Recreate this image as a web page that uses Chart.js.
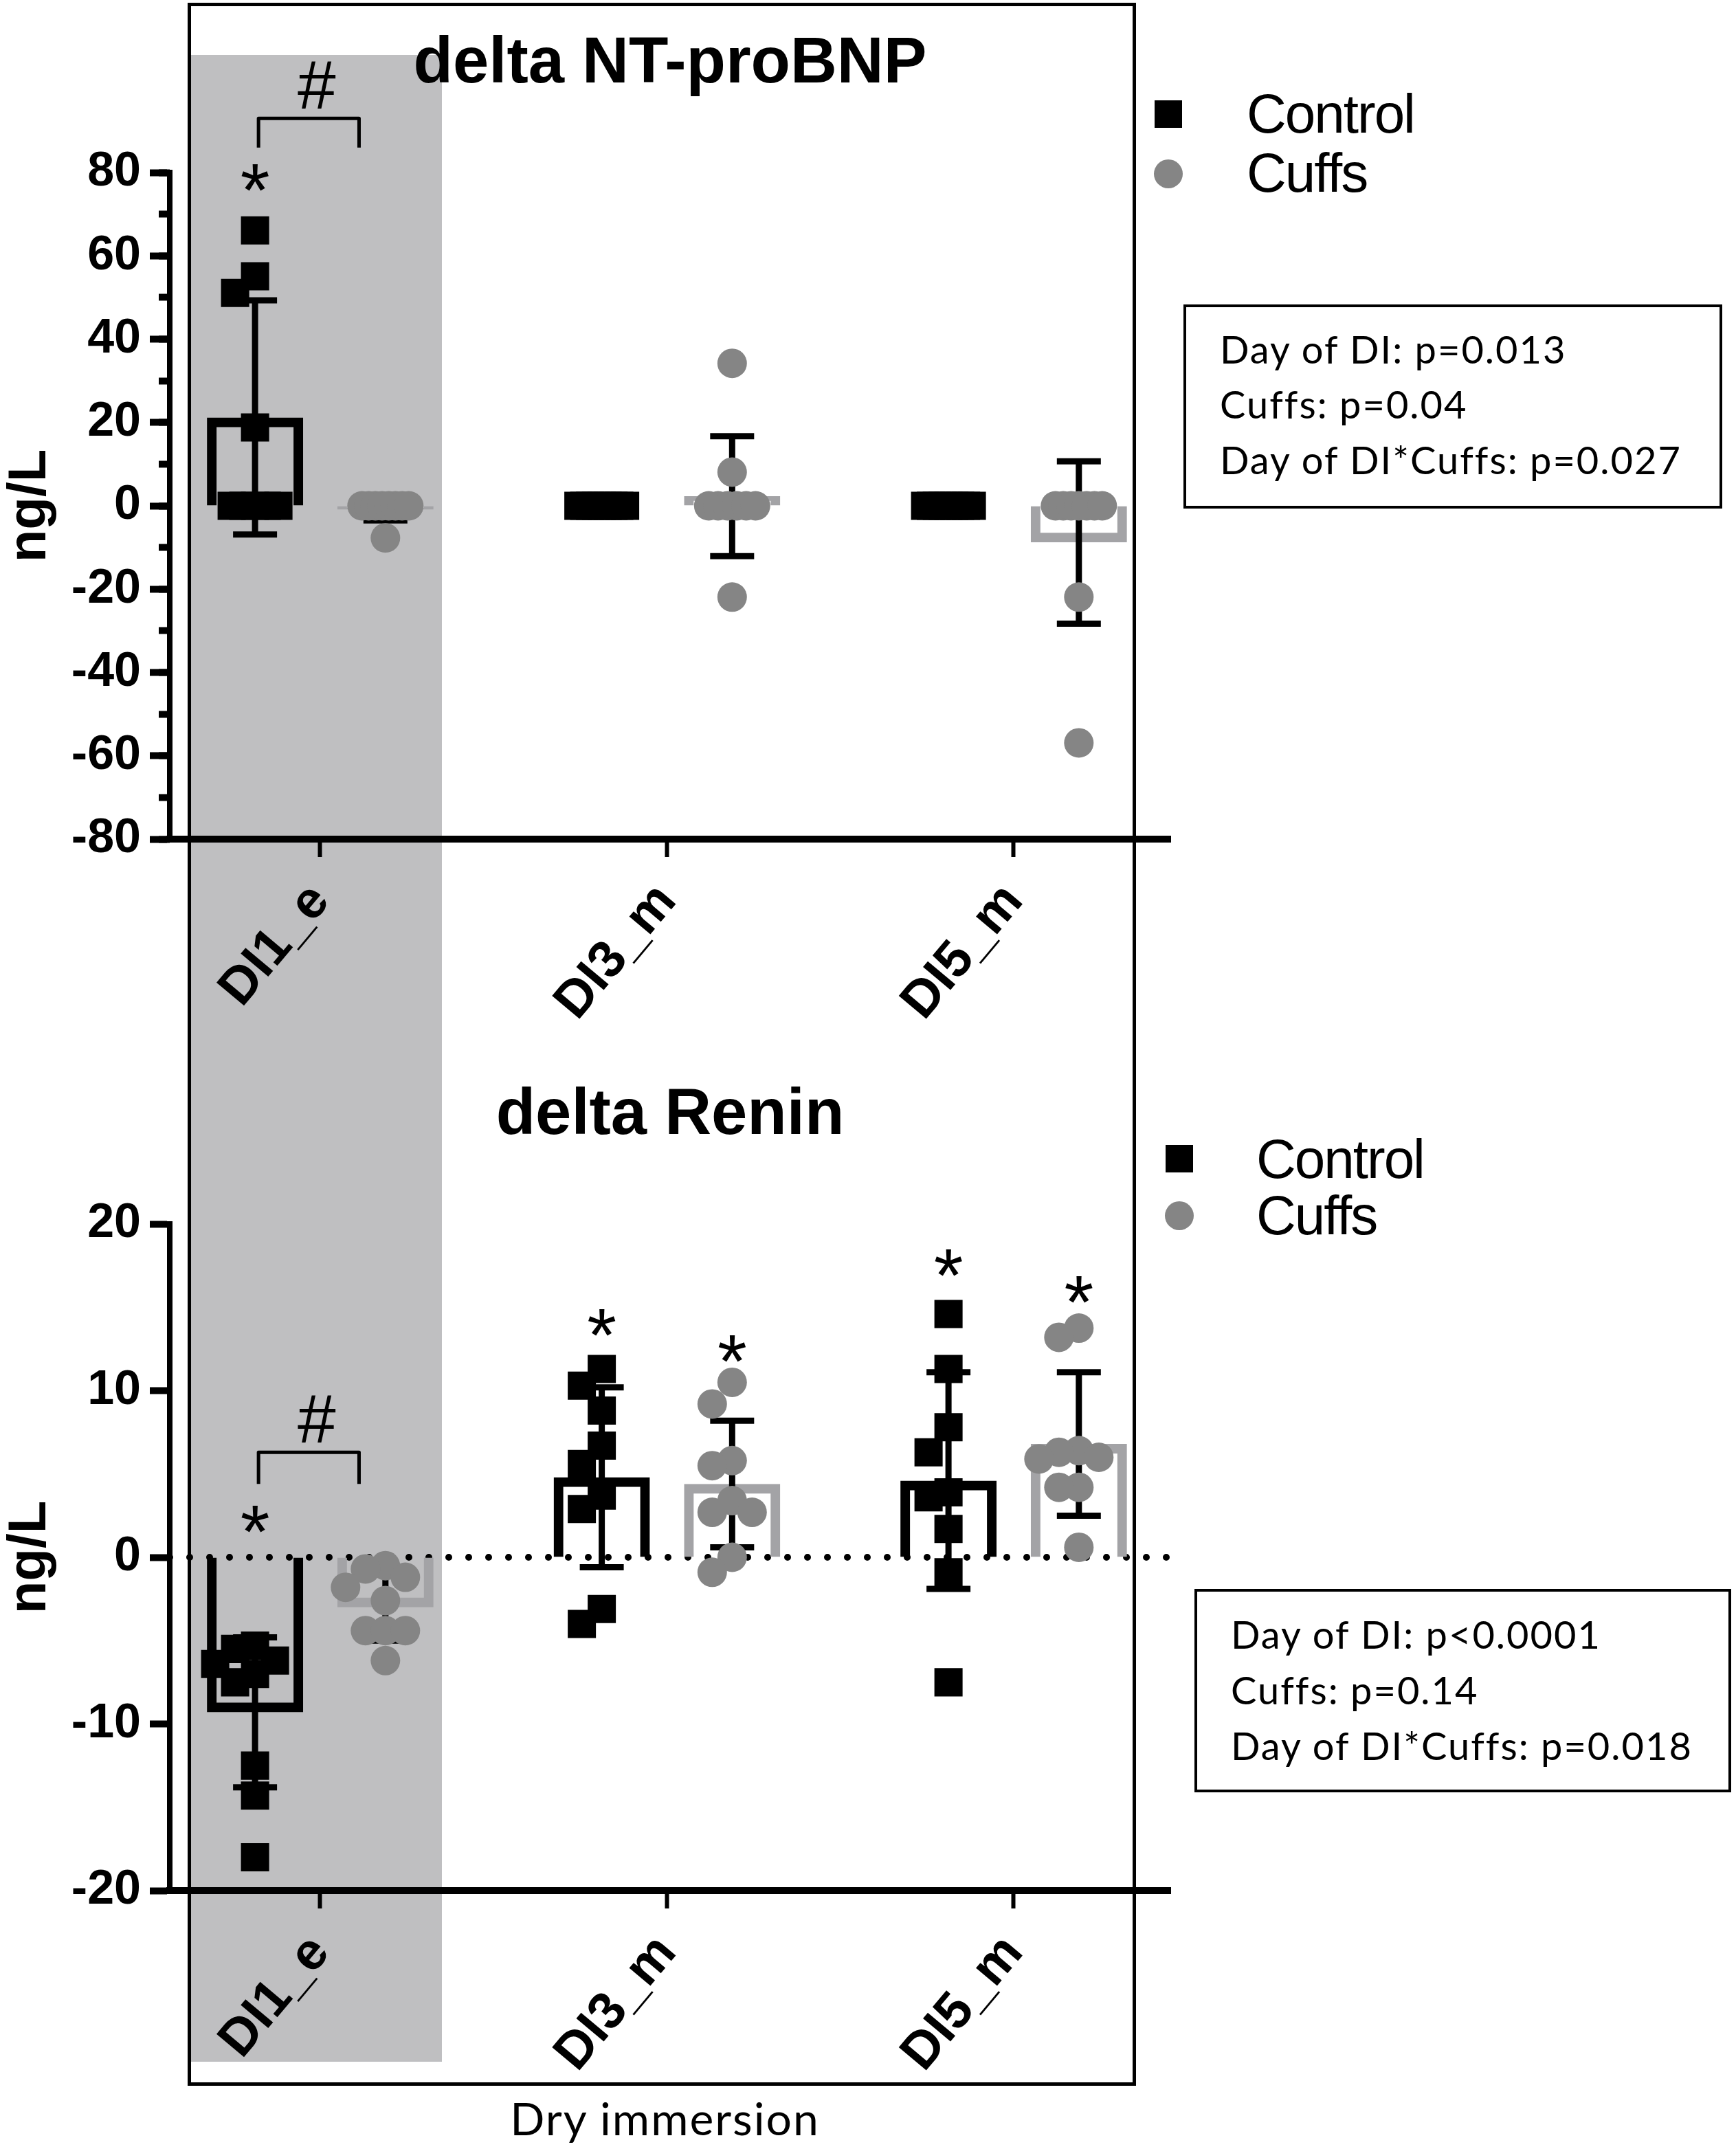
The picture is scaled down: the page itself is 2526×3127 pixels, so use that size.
<!DOCTYPE html>
<html>
<head>
<meta charset="utf-8">
<script src="https://cdn.jsdelivr.net/npm/chart.js@4.4.1/dist/chart.umd.min.js"></script>
<style>
  html, body { margin: 0; padding: 0; background: #fff; }
  body { width: 2526px; height: 3127px; position: relative; overflow: hidden; }
  .abs { position: absolute; }
  .leg { position: absolute; font-family: 'Liberation Sans', Arial, sans-serif; font-size: 80px; line-height: 80px; letter-spacing: -2px; color: #000; white-space: nowrap; }
  .stats { position: absolute; border: 4px solid #000; box-sizing: border-box; background: #fff; }
  .stats div { position: absolute; font-family: Lato, 'Open Sans', sans-serif; font-size: 56px; line-height: 80px; letter-spacing: 2px; color: #000; white-space: nowrap; }
</style>
</head>
<body>
<div class="abs" style="left:277px;top:80px;width:366px;height:2920px;background:#bfbfc1;"></div>
<div class="abs" style="left:273px;top:4px;width:1380px;height:3031px;border:5px solid #000;box-sizing:border-box;"></div>
<canvas id="c1" class="abs" style="left:0;top:0;" width="1760" height="1500"></canvas>
<canvas id="c2" class="abs" style="left:0;top:1500px;" width="1760" height="1520"></canvas>

<!-- legends -->
<div class="abs" style="left:1680px;top:146px;width:40px;height:40px;background:#000;"></div>
<div class="abs" style="left:1679px;top:232px;width:42px;height:42px;border-radius:50%;background:#858585;"></div>
<div class="leg" style="left:1814px;top:126px;">Control</div>
<div class="leg" style="left:1814px;top:212px;">Cuffs</div>

<div class="abs" style="left:1696px;top:1666px;width:40px;height:40px;background:#000;"></div>
<div class="abs" style="left:1695px;top:1748px;width:42px;height:42px;border-radius:50%;background:#858585;"></div>
<div class="leg" style="left:1828px;top:1647px;">Control</div>
<div class="leg" style="left:1828px;top:1729px;">Cuffs</div>

<!-- statistics boxes -->
<div class="stats" style="left:1722px;top:443px;width:784px;height:297px;">
  <div style="left:49px;top:21px;">Day of DI: p=0.013</div>
  <div style="left:49px;top:101px;">Cuffs: p=0.04</div>
  <div style="left:49px;top:182px;">Day of DI*Cuffs: p=0.027</div>
</div>
<div class="stats" style="left:1738px;top:2312px;width:781px;height:296px;">
  <div style="left:49px;top:22px;">Day of DI: p&lt;0.0001</div>
  <div style="left:49px;top:103px;">Cuffs: p=0.14</div>
  <div style="left:49px;top:184px;">Day of DI*Cuffs: p=0.018</div>
</div>

<div class="abs" style="left:0;width:1935px;top:3042px;text-align:center;font-family:Lato,'Open Sans',sans-serif;font-size:66px;letter-spacing:2px;line-height:80px;color:#000;">Dry immersion</div>

<script>
// ---------------- DATA ----------------
const categories = ['DI1_e', 'DI3_m', 'DI5_m'];
const seriesNames = ['Control', 'Cuffs'];

// delta NT-proBNP (ng/L): individual values per category
const bnpControl = [
  [66.1, 55.1, 51.1, 18.8, 0, 0, 0, 0, 0],
  [0, 0, 0, 0, 0, 0, 0, 0, 0],
  [0, 0, 0, 0, 0, 0, 0, 0, 0]
];
const bnpCuffs = [
  [0, 0, 0, 0, 0, 0, 0, 0, -7.7],
  [34.2, 8.1, 0, 0, 0, 0, 0, 0, -21.9],
  [0, 0, 0, 0, 0, 0, 0, -21.9, -56.9]
];
const bnpControlMean = [21.2, 0, 0];
const bnpControlSD   = [28.1, 0, 0];
const bnpCuffsMean   = [-0.9, 2.3, -8.8];
const bnpCuffsSD     = [2.6, 14.4, 19.5];
const bnpYTicks = [-80, -60, -40, -20, 0, 20, 40, 60, 80];
const bnpYMinorTicks = [-80, -70, -60, -50, -40, -30, -20, -10, 0, 10, 20, 30, 40, 50, 60, 70, 80];

// delta Renin (ng/L)
const reninControl = [
  [-5.3, -5.5, -6.2, -6.4, -7.0, -7.5, -12.5, -14.3, -18.0],
  [11.3, 10.3, 8.8, 6.7, 5.6, 3.7, 2.9, -3.1, -4.0],
  [14.6, 11.3, 7.8, 6.3, 3.9, 3.6, 1.7, -0.9, -7.5]
];
const reninCuffs = [
  [-0.5, -0.7, -1.2, -1.8, -2.6, -4.4, -4.4, -4.4, -6.2],
  [10.5, 9.2, 5.8, 5.5, 3.4, 2.7, 2.7, 0.0, -0.9],
  [13.75, 13.2, 6.4, 6.3, 6.0, 5.9, 4.2, 4.2, 0.6]
];
const reninControlMean = [-9.3, 4.8, 4.6];
const reninControlSD   = [4.5, 5.4, 6.5];
const reninCuffsMean   = [-3.0, 4.4, 6.8];
const reninCuffsSD     = [2.0, 3.8, 4.3];
const reninYTicks = [-20, -10, 0, 10, 20];

// significance marks: category index, series index, y value
const bnpStars = [{ cat: 0, series: 0, y: 80 }];
const bnpHash = { cat: 0, y: 101, bracketY: 93, legY: 86 };
const reninStars = [
  { cat: 0, series: 0, y: 2.6 },
  { cat: 1, series: 0, y: 14.4 },
  { cat: 1, series: 1, y: 12.85 },
  { cat: 2, series: 0, y: 18.0 },
  { cat: 2, series: 1, y: 16.4 }
];
const reninHash = { cat: 0, y: 8.3, bracketY: 6.3, legY: 4.4 };

// ---------------- LAYOUT / STYLE ----------------
const CANVAS_W = 1760;
const AREA_LEFT = 247, AREA_RIGHT = 1703;
const X_MIN = 0.566, X_MAX = 3.452;
const SERIES_OFFSET = [-0.188, 0.188];
const BRACKET_L = -0.178, BRACKET_R = 0.112, HASH_DX = -0.01;
const FONT = "'Liberation Sans', Arial, sans-serif";

const STYLE = [
  { bar: '#000000', point: '#000000', pointStyle: 'rect', radius: 29 },
  { bar: '#a3a3a6', point: '#858585', pointStyle: 'circle', radius: 21.5 }
];

function swarm(vals, pxY) {
  const D = 40, S = 29, CAP = 34;
  const order = vals.map((v, i) => i).sort((a, b) => vals[b] - vals[a]);
  const placed = [];
  const off = new Array(vals.length).fill(0);
  for (const i of order) {
    const py = vals[i] * pxY;
    for (let k = 0; k < 40; k++) {
      const c = k === 0 ? 0 : (k % 2 ? -1 : 1) * Math.ceil(k / 2) * S;
      if (placed.every(p => Math.abs(p.x - c) >= S * 0.99 || Math.abs(p.y - py) >= D)) {
        off[i] = c; placed.push({ x: c, y: py }); break;
      }
    }
  }
  const seen = new Set();
  vals.forEach((v, i) => {
    if (seen.has(i)) return;
    const row = vals.map((w, j) => j).filter(j => Math.abs(vals[j] - v) * pxY < 3);
    row.forEach(j => seen.add(j));
    if (row.length >= 3) {
      const step = Math.min(S, 2 * CAP / (row.length - 1));
      row.forEach((j, n) => { off[j] = (n - (row.length - 1) / 2) * step; });
    }
  });
  return off;
}

const annotate = {
  id: 'annotate',
  afterDatasetsDraw(chart, args, opts) {
    const { ctx, scales: { x, y } } = chart;
    ctx.save();
    ctx.fillStyle = '#000';
    ctx.strokeStyle = '#000';
    ctx.textAlign = 'center';
    ctx.textBaseline = 'alphabetic';
    const starSize = 110;
    ctx.font = starSize + 'px ' + FONT;
    opts.stars.forEach(s => {
      const px = x.getPixelForValue(s.cat + 1 + SERIES_OFFSET[s.series]);
      const py = y.getPixelForValue(s.y);
      ctx.fillText('*', px, py + 0.575 * starSize);
    });
    const h = opts.hash;
    const xl = x.getPixelForValue(h.cat + 1 + BRACKET_L);
    const xr = x.getPixelForValue(h.cat + 1 + BRACKET_R);
    const yb = y.getPixelForValue(h.bracketY);
    const yl = y.getPixelForValue(h.legY);
    ctx.lineWidth = 5;
    ctx.lineJoin = 'round';
    ctx.beginPath();
    ctx.moveTo(xl, yl); ctx.lineTo(xl, yb); ctx.lineTo(xr, yb); ctx.lineTo(xr, yl);
    ctx.stroke();
    const hashSize = 100;
    ctx.font = hashSize + 'px ' + FONT;
    ctx.fillText('#', x.getPixelForValue(h.cat + 1 + HASH_DX), y.getPixelForValue(h.y) + 0.345 * hashSize);
    ctx.restore();
  }
};

function buildChart(id, c) {
  const pxX = (AREA_RIGHT - AREA_LEFT) / (X_MAX - X_MIN);
  const pxY = (c.areaBottom - c.areaTop) / (c.yMax - c.yMin);
  const datasets = [];
  if (c.zeroLine) {
    datasets.push({
      type: 'line', data: [{ x: X_MIN, y: 0 }, { x: X_MAX, y: 0 }],
      borderColor: '#000', borderWidth: 10, borderDash: [0, 29], borderCapStyle: 'round',
      pointRadius: 0, order: 10
    });
  }
  const groups = [
    { pts: c.ctrl, mean: c.ctrlMean, sd: c.ctrlSD },
    { pts: c.cuff, mean: c.cuffMean, sd: c.cuffSD }
  ];
  groups.forEach((g, s) => {
    const st = STYLE[s];
    const off = SERIES_OFFSET[s];
    datasets.push({
      type: 'bar', label: seriesNames[s],
      data: categories.map((cat, i) => ({ x: i + 1 + off, y: g.mean[i] })),
      backgroundColor: 'rgba(0,0,0,0)', borderColor: st.bar, borderWidth: 14,
      borderSkipped: 'start', barThickness: 140, grouped: false, inflateAmount: 0, order: 8
    });
    datasets.push({
      type: 'bar', label: seriesNames[s] + ' SD',
      data: categories.map((cat, i) => ({ x: i + 1 + off, y: [g.mean[i] - g.sd[i], g.mean[i] + g.sd[i]] })),
      backgroundColor: '#000', borderWidth: 0, barThickness: 9, grouped: false, inflateAmount: 0, order: 5
    });
    datasets.push({
      type: 'scatter', label: seriesNames[s] + ' SD caps',
      data: categories.flatMap((cat, i) => g.sd[i] > 0 ? [
        { x: i + 1 + off, y: g.mean[i] - g.sd[i] },
        { x: i + 1 + off, y: g.mean[i] + g.sd[i] }] : []),
      pointStyle: 'line', pointRadius: 32, pointBorderWidth: 9, pointBorderColor: '#000', order: 4
    });
    const pts = [];
    g.pts.forEach((vals, i) => {
      const o = swarm(vals, pxY);
      vals.forEach((v, j) => pts.push({ x: i + 1 + off + o[j] / pxX, y: v }));
    });
    datasets.push({
      type: 'scatter', label: seriesNames[s] + ' values', data: pts,
      pointStyle: st.pointStyle, pointRadius: st.radius, pointBackgroundColor: st.point,
      pointBorderWidth: 0, pointBorderColor: st.point, order: 1
    });
  });

  const titleSize = 94, titleLH = titleSize * 1.2;
  const scales = {
    x: {
      type: 'linear', position: 'bottom', min: X_MIN, max: X_MAX, offset: false,
      afterFit: sc => { sc.height = c.canvasH - c.areaBottom; },
      afterBuildTicks: sc => { sc.ticks = categories.map((cat, i) => ({ value: i + 1 })); },
      border: { display: true, color: '#000', width: 10 },
      grid: { drawOnChartArea: false, drawTicks: true, tickLength: 26, tickWidth: 6, tickColor: '#000', offset: false },
      ticks: {
        autoSkip: false, minRotation: 50, maxRotation: 50, padding: 22, color: '#000',
        font: { family: FONT, size: 76, weight: 'bold' },
        callback: (v, i) => categories[i]
      }
    },
    y: {
      type: 'linear', position: 'left', min: c.yMin, max: c.yMax, weight: 0,
      afterFit: sc => { sc.width = AREA_LEFT; },
      afterBuildTicks: sc => { sc.ticks = c.yTicks.map(v => ({ value: v })); },
      border: { display: true, color: '#000', width: 8 },
      grid: { drawOnChartArea: false, tickLength: 29, tickWidth: 10, tickColor: '#000' },
      ticks: {
        padding: 13, color: '#000', font: { family: FONT, size: 70, weight: 'bold' },
        callback: v => String(v)
      },
      title: {
        display: true, text: 'ng/L', color: '#000',
        font: { family: FONT, size: 78, weight: 'bold', lineHeight: 1.0 },
        padding: { top: 5, bottom: 0 }
      }
    }
  };
  if (c.yMinorTicks) {
    scales.yMinor = {
      type: 'linear', position: 'left', min: c.yMin, max: c.yMax, weight: -1,
      afterFit: sc => { sc.width = 0; },
      afterBuildTicks: sc => { sc.ticks = c.yMinorTicks.map(v => ({ value: v })); },
      border: { display: false },
      grid: { drawOnChartArea: false, drawTicks: true, tickLength: 16, tickWidth: 10, tickColor: '#000' },
      ticks: { display: false }
    };
  }

  return new Chart(document.getElementById(id), {
    type: 'bar',
    data: { datasets },
    plugins: [annotate],
    options: {
      responsive: false, animation: false, devicePixelRatio: 1, events: [],
      layout: { padding: { left: 0, right: CANVAS_W - AREA_RIGHT, top: 0, bottom: 0 } },
      plugins: {
        legend: { display: false }, tooltip: { enabled: false },
        title: {
          display: true, text: c.title, fullSize: false, color: '#000',
          font: { family: FONT, size: titleSize, weight: 'bold', lineHeight: 1.2 },
          padding: { top: c.titleCenter - titleLH / 2, bottom: c.areaTop - c.titleCenter - titleLH / 2 }
        },
        annotate: { stars: c.stars, hash: c.hash }
      },
      scales
    }
  });
}

buildChart('c1', {
  title: 'delta NT-proBNP', titleCenter: 94, areaTop: 251, areaBottom: 1221, canvasH: 1500,
  yMin: -80, yMax: 80, yTicks: bnpYTicks, yMinorTicks: bnpYMinorTicks, zeroLine: false,
  ctrl: bnpControl, cuff: bnpCuffs,
  ctrlMean: bnpControlMean, ctrlSD: bnpControlSD, cuffMean: bnpCuffsMean, cuffSD: bnpCuffsSD,
  stars: bnpStars, hash: bnpHash
});
buildChart('c2', {
  title: 'delta Renin', titleCenter: 124, areaTop: 281, areaBottom: 1251, canvasH: 1520,
  yMin: -20, yMax: 20, yTicks: reninYTicks, yMinorTicks: null, zeroLine: true,
  ctrl: reninControl, cuff: reninCuffs,
  ctrlMean: reninControlMean, ctrlSD: reninControlSD, cuffMean: reninCuffsMean, cuffSD: reninCuffsSD,
  stars: reninStars, hash: reninHash
});
</script>
</body>
</html>
